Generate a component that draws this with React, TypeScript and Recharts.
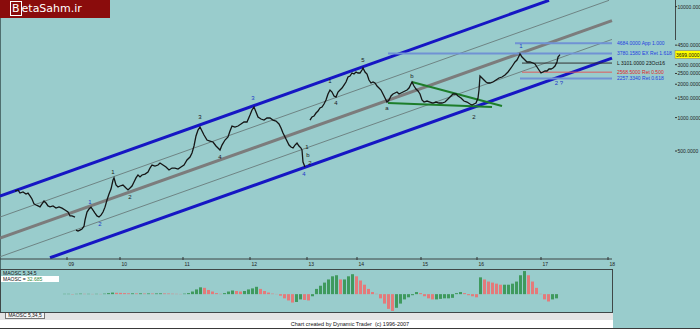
import React from "react";
import {
  Bar,
  BarChart,
  Cell,
  ComposedChart,
  Line,
  ReferenceDot,
  ReferenceLine,
  XAxis,
  YAxis,
} from "recharts";

const FONT = '"Liberation Sans", Arial, sans-serif';
const BG = "#99cccc";

// time axis: bar numbers, year starts
const yearTicks = [67, 120, 183, 250, 307, 357, 421, 477, 541, 608];
const yearLabels = ["09", "10", "11", "12", "13", "14", "15", "16", "17", "18"];

// right price axis (log)
const priceTicks = [10000, 4500, 3000, 2500, 2000, 1500, 1000, 500];
const priceDomain = [53.2, 11480];

// closes, three stretches split by trading gaps
const barsA = [15, 18, 20, 23, 26, 28, 30, 32, 34, 36, 38, 40, 42, 44, 46, 48, 50, 53, 56, 59, 62, 65, 68, 70, 72, 75];
const closeA = [218, 223, 209, 214, 205, 209, 197, 185, 167, 163, 160, 157, 167, 177, 170, 160, 157, 160, 153, 157, 153, 147, 141, 130, 130, 127];

const barsB = [
  76, 78, 80, 82, 84, 85, 87, 89, 91, 93, 95, 97, 99, 101, 103, 105, 107, 109, 111, 113,
  114, 116, 118, 120, 123, 126, 128, 130, 132, 134, 136, 138, 140, 142, 145, 148, 150, 152, 155, 158,
  160, 163, 166, 169, 172, 175, 178, 181, 184, 187, 190, 192, 194, 196, 198, 200, 202, 204, 207, 210,
  213, 216, 218, 220, 222, 225, 228, 230, 232, 235, 238, 241, 244, 247, 250, 252, 254, 256, 258, 261,
  264, 267, 270, 273, 276, 279, 281, 283, 285, 287, 289, 291, 293, 295, 297, 299, 301, 302, 303, 305,
];
const closeB = [
  97, 95, 97, 99, 105, 119, 141, 150, 156, 147, 138, 130, 127, 132, 141, 156, 181, 205, 227, 274,
  286, 247, 237, 242, 247, 232, 223, 232, 242, 263, 286, 304, 292, 304, 310, 323, 351, 374, 366, 374,
  390, 374, 359, 337, 351, 351, 344, 359, 374, 415, 441, 480, 555, 683, 773, 823, 757, 697, 628, 615,
  603, 555, 532, 510, 566, 628, 669, 757, 840, 823, 840, 876, 913, 913, 1056, 1171, 1246, 1123, 1013, 971,
  951, 992, 992, 951, 932, 876, 806, 726, 669, 615, 566, 543, 532, 566, 590, 555, 532, 510, 398, 359,
];

const barsC = [
  310, 312, 314, 316, 318, 320, 322, 324, 326, 328, 330, 332, 334, 336, 338, 340, 342, 344, 346, 348,
  350, 352, 354, 356, 358, 360, 362, 363, 365, 367, 369, 371, 373, 375, 377, 379, 381, 383, 385, 387,
  389, 391, 393, 395, 397, 399, 401, 403, 405, 407, 409, 411, 412, 414, 416, 418, 420, 422, 424, 427,
  430, 433, 436, 439, 442, 445, 448, 450, 453, 456, 458, 461, 464, 467, 470, 472, 474, 476, 478, 479,
  480, 482, 484, 486, 488, 490, 493, 496, 499, 502, 505, 508, 511, 513, 515, 517, 519, 520, 522, 524,
  527, 530, 533, 535, 537, 539, 541, 543, 545, 547, 549, 551, 553, 555, 557, 558, 560,
];
const closeC = [
  951, 1013, 1034, 1100, 1147, 1221, 1246, 1326, 1441, 1632, 1773, 1701, 1566, 1534, 1701, 1773, 1849, 1967, 2094, 2323,
  2371, 2524, 2472, 2577, 2524, 2524, 2686, 2800, 2577, 2472, 2183, 2051, 2094, 2051, 1927, 1849, 1773, 1632, 1502, 1382,
  1441, 1566, 1632, 1666, 1701, 1632, 1666, 1701, 1737, 1773, 1849, 2009, 2094, 1927, 1811, 1737, 1632, 1441, 1382, 1411,
  1382, 1354, 1382, 1354, 1354, 1382, 1471, 1534, 1632, 1632, 1566, 1502, 1411, 1382, 1326, 1299, 1326, 1354, 1502, 1773,
  2371, 2275, 2183, 2094, 2051, 2051, 2094, 2183, 2275, 2323, 2421, 2577, 2800, 2980, 3171, 3306, 3592, 3750, 3518, 3375,
  3171, 3171, 3106, 3042, 2859, 2686, 2524, 2577, 2631, 2631, 2742, 2742, 2800, 2918, 3171, 3518, 3699,
];
const lastClose = 3699;

// channel and triangle lines: [bar, price] end points
const upperChannel = [[0, 196], [549, 11400]];
const upperMidChannel = [[0, 127], [609, 11400]];
const centreLine = [[0, 82.2], [612, 7480]];
const lowerMidChannel = [[0, 55.7], [612, 5066]];
const lowerChannel = [[50, 54.6], [612, 3431]];
const triangleUpper = [[412, 2094], [502, 1272]];
const triangleLower = [[388, 1354], [492, 1246]];

// fibonacci levels
const fibPrices = [4684.0, 3780.158, 3101.0, 2568.5, 2257.334];
const fibFrom = [515, 388, 522, 522, 520];
const fibText = [
  "4684.0000 App 1.000",
  "3780.1580 EX Ret 1.618",
  "L 3101.0000 23Oct16",
  "2568.5000 Ret 0.500",
  "2257.3340 Ret 0.618",
];

// wave counts
const waveText = ["1", "2", "1", "2", "3", "4", "3", "1", "b", "2", "4", "1", "4", "5", "a", "b", "2", "1", "2 ?"];
const waveBar = [90, 100, 113, 130, 200, 220, 253, 307, 308, 310, 304, 330, 336, 363, 387, 412, 474, 521, 559];
const wavePrice = [174, 110, 323, 193, 1013, 441, 1502, 543, 460, 390, 310, 2138, 1354, 3306, 1221, 2371, 1013, 4425, 2051];
const waveBlue = [true, true, false, false, false, false, true, false, false, false, true, false, false, false, false, false, false, true, true];

// MAOSC 5,34,5 histogram, one value every 4 bars from bar 64
const oscValues = [
  6, 6, -6, 6, 10, 6, 6, 4, 6, 4,
  10, 20, 30, 26, 24, 20, 16, 16, 14, 16,
  12, 14, 12, 14, 16, 14, 12, 8, 6, 4,
  10, 20, 50, 90, 130, 120, 80, 50, 20, 6,
  20, 50, 70, 60, 50, 60, 90, 110, 140, 100,
  60, 30, 10, 4, -30, -80, -120, -160, -150, -100,
  -110, -120, -40, 100, 160, 220, 280, 340, 360, 280,
  280, 340, 380, 340, 260, 180, 100, 40, 6, -80,
  -180, -280, -320, -260, -180, -100, -60, -20, 40, 20,
  -40, -80, -100, -100, -90, -80, -80, -70, 20, 40,
  20, -20, -40, -60, 320, 280, 240, 220, 200, 180,
  180, 180, 200, 240, 360, 440, 360, 240, 120, 6,
  -100, -140, -100, -80,
];

const toPoints = (bars: number[], closes: number[]) => bars.map((bar, i) => ({ bar, close: closes[i] }));
const priceData = [
  ...toPoints(barsA, closeA),
  { bar: 75.5, close: null },
  ...toPoints(barsB, closeB),
  { bar: 307, close: null },
  ...toPoints(barsC, closeC),
];

const trendLines = [
  { pts: upperMidChannel, stroke: "#6e8484", width: 1 },
  { pts: lowerMidChannel, stroke: "#6e8484", width: 1 },
  { pts: centreLine, stroke: "#7c7c7c", width: 3 },
  { pts: upperChannel, stroke: "#1616c4", width: 3 },
  { pts: lowerChannel, stroke: "#1616c4", width: 3 },
  { pts: triangleUpper, stroke: "#1d7d2a", width: 2 },
  { pts: triangleLower, stroke: "#1d7d2a", width: 2 },
];
const fibLine = ["#7092d4", "#7092d4", "#303030", "#e05a5a", "#7092d4"];
const fibWidth = [2, 2, 1, 1, 2];
const fibLabel = ["#2340e0", "#2340e0", "#111111", "#e02525", "#2340e0"];

const oscData = oscValues.map((osc, i) => ({ i, osc }));

function YearTick({ x, y, payload }: any) {
  const idx = yearTicks.indexOf(payload.value);
  return (
    <g>
      <line x1={x} x2={x} y1={y - 2} y2={y + 1} stroke="#333" />
      <text x={x + 1.5} y={y + 7} fontSize={5} fill="#222" fontFamily={FONT}>
        {yearLabels[idx]}
      </text>
    </g>
  );
}

function PriceTick({ x, y, payload }: any) {
  const v: number = payload.value;
  const txt = v.toFixed(4);
  if (v === lastClose) {
    return (
      <g>
        <rect x={x + 63} y={y - 4} width={27} height={8} fill="#ffff00" stroke="#777" strokeWidth={0.5} />
        <text x={x + 64} y={y + 2} fontSize={5} fill="#111" fontFamily={FONT}>
          {txt}
        </text>
      </g>
    );
  }
  return (
    <g>
      <line x1={x + 63} x2={x + 65} y1={y} y2={y} stroke="#333" />
      <text x={x + 65.5} y={y + 2} fontSize={5} fill="#222" fontFamily={FONT}>
        {txt}
      </text>
    </g>
  );
}

export default function App() {
  return (
    <div
      style={{
        position: "absolute",
        left: 0,
        top: 0,
        width: 700,
        height: 329,
        background: BG,
        overflow: "hidden",
        fontFamily: FONT,
      }}
    >
      <div style={{ position: "absolute", left: 0, top: 0, width: 1, height: 269, background: "#4f6f6f" }} />
      <div style={{ position: "absolute", left: 675, top: 0, width: 1, height: 40, background: "#404848" }} />

      <div style={{ position: "absolute", left: 0, top: 0 }}>
        <ComposedChart width={700} height={269} data={priceData} margin={{ top: 0, right: 0, bottom: 0, left: 0 }}>
          <XAxis
            dataKey="bar"
            type="number"
            domain={[0, 612]}
            ticks={yearTicks}
            interval={0}
            height={10}
            tickSize={0}
            tickMargin={0}
            tickLine={false}
            axisLine={{ stroke: "#3c4444" }}
            tick={<YearTick />}
          />
          <YAxis
            orientation="right"
            scale="log"
            domain={priceDomain}
            allowDataOverflow
            ticks={[...priceTicks, lastClose]}
            interval={0}
            width={88}
            tickSize={0}
            tickMargin={0}
            tickLine={false}
            axisLine={false}
            tick={<PriceTick />}
          />
          {trendLines.map((t, i) => (
            <ReferenceLine
              key={`t${i}`}
              segment={[
                { x: t.pts[0][0], y: t.pts[0][1] },
                { x: t.pts[1][0], y: t.pts[1][1] },
              ]}
              stroke={t.stroke}
              strokeWidth={t.width}
              ifOverflow="visible"
            />
          ))}
          {fibPrices.map((p, i) => (
            <ReferenceLine
              key={`f${i}`}
              segment={[
                { x: fibFrom[i], y: p },
                { x: 612, y: p },
              ]}
              stroke={fibLine[i]}
              strokeWidth={fibWidth[i]}
              ifOverflow="visible"
              label={{
                value: fibText[i],
                position: "right",
                offset: 5,
                fill: fibLabel[i],
                fontSize: 5,
                fontFamily: FONT,
              }}
            />
          ))}
          <Line
            dataKey="close"
            stroke="#151515"
            strokeWidth={1.3}
            dot={false}
            connectNulls={false}
            isAnimationActive={false}
          />
          {waveText.map((t, i) => (
            <ReferenceDot
              key={`w${i}`}
              x={waveBar[i]}
              y={wavePrice[i]}
              r={0}
              fill="none"
              stroke="none"
              ifOverflow="visible"
              label={{
                value: t,
                position: "center",
                fill: waveBlue[i] ? "#2338c8" : "#1a1a1a",
                fontSize: 6,
                fontFamily: FONT,
              }}
            />
          ))}
        </ComposedChart>
      </div>

      {/* oscillator pane */}
      <div
        style={{
          position: "absolute",
          left: 0,
          top: 269,
          width: 613,
          height: 44,
          border: "1px solid #3f4747",
          boxSizing: "border-box",
        }}
      />
      <div style={{ position: "absolute", left: 0, top: 270 }}>
        <BarChart width={700} height={42} data={oscData} margin={{ top: 0, right: 142, bottom: 0, left: 62 }} barCategoryGap={0}>
          <XAxis dataKey="i" hide />
          <YAxis hide domain={[-340, 460]} allowDataOverflow />
          <Bar dataKey="osc" barSize={3} isAnimationActive={false}>
            {oscData.map((d, i) => (
              <Cell key={i} fill={i === 0 || d.osc >= oscValues[i - 1] ? "#3f9a5e" : "#e47a7a"} />
            ))}
          </Bar>
        </BarChart>
      </div>
      <div style={{ position: "absolute", left: 3, top: 270, fontSize: 5, color: "#111", lineHeight: "6px" }}>
        MAOSC 5,34,5
      </div>
      <div
        style={{
          position: "absolute",
          left: 1,
          top: 276,
          width: 56,
          height: 6,
          background: "#ffffff",
          fontSize: 5,
          lineHeight: "6px",
          paddingLeft: 2,
          color: "#111",
        }}
      >
        MAOSC = <span style={{ color: "#2f8a3a" }}>32.685</span>
      </div>

      <div style={{ position: "absolute", left: 0, top: 313, width: 613, height: 7, background: "#e4e4e4" }} />
      <div
        style={{
          position: "absolute",
          left: 5,
          top: 313,
          width: 40,
          height: 6,
          background: "#f4f4f4",
          border: "1px solid #777",
          borderTop: "none",
          boxSizing: "border-box",
          fontSize: 5,
          lineHeight: "5px",
          textAlign: "center",
          color: "#111",
        }}
      >
        MAOSC 5,34,5
      </div>
      <div style={{ position: "absolute", left: 0, top: 320, width: 613, height: 8, background: "#ffffff" }} />
      <div
        style={{
          position: "absolute",
          left: 250,
          top: 321,
          width: 200,
          textAlign: "center",
          fontSize: 5.5,
          lineHeight: "7px",
          color: "#111",
          whiteSpace: "pre",
        }}
      >
        {"Chart created by Dynamic Trader  (c) 1996-2007"}
      </div>
      <div style={{ position: "absolute", left: 0, top: 328, width: 700, height: 1, background: "#3a3a3a" }} />

      {/* site badge */}
      <div
        style={{
          position: "absolute",
          left: 0,
          top: 0,
          width: 110,
          height: 18,
          background: "#8a0c0c",
          color: "#ffffff",
          fontFamily: '"DejaVu Sans", sans-serif',
          fontSize: 11,
          lineHeight: "18px",
          paddingLeft: 10,
          boxSizing: "border-box",
        }}
      >
        <span style={{ border: "1px solid #fff", padding: "0 1px", lineHeight: "10px" }}>B</span>etaSahm.ir
      </div>
    </div>
  );
}
